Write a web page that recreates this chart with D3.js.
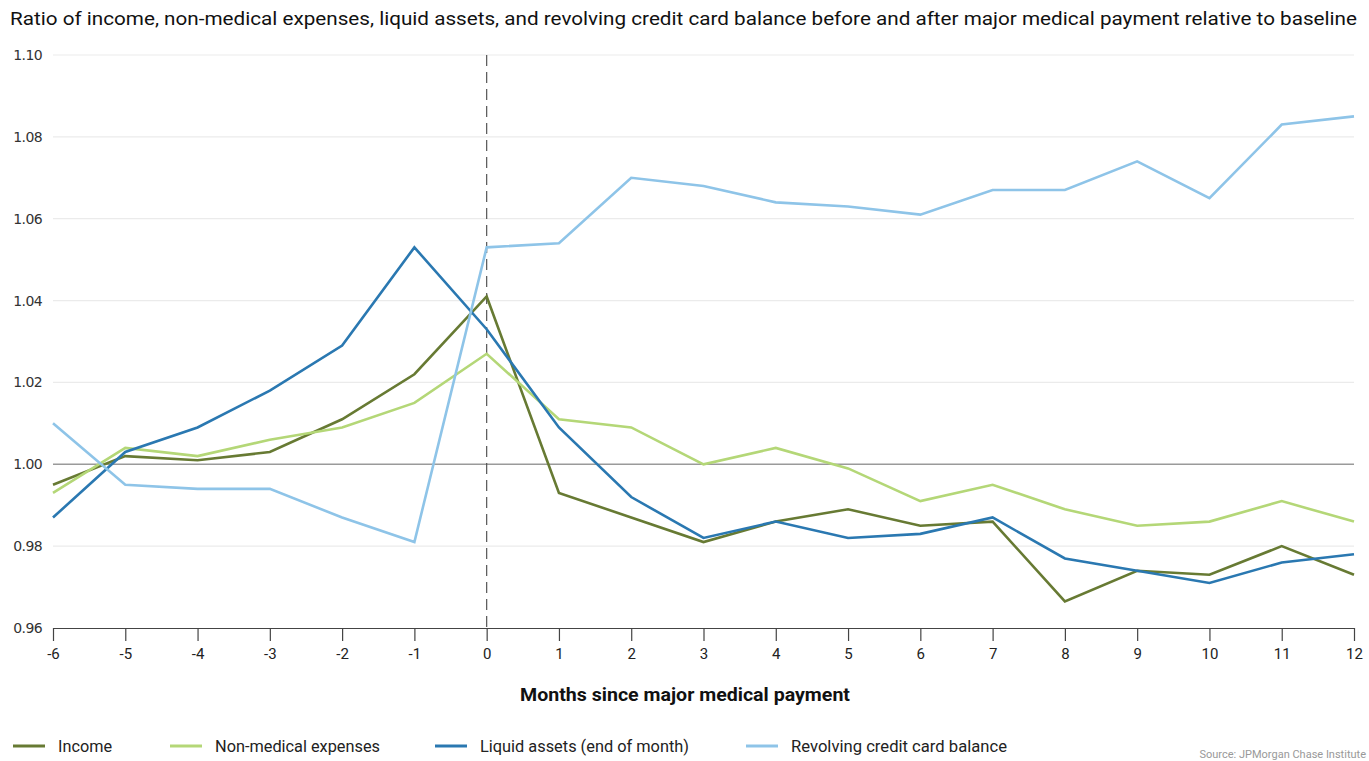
<!DOCTYPE html>
<html>
<head>
<meta charset="utf-8">
<script src="https://cdn.jsdelivr.net/npm/d3@7"></script>
<style>
  html, body { margin: 0; padding: 0; background: #fff; }
  svg { display: block; }
</style>
</head>
<body>
<svg id="chart" width="1369" height="761"></svg>
<script>
const months = [-6,-5,-4,-3,-2,-1,0,1,2,3,4,5,6,7,8,9,10,11,12];
const income =      [0.995,1.002,1.001,1.003,1.011,1.022,1.041,0.993,0.987,0.981,0.986,0.989,0.985,0.986,0.9665,0.974,0.973,0.980,0.973];
const nonMedical =  [0.993,1.004,1.002,1.006,1.009,1.015,1.027,1.011,1.009,1.000,1.004,0.999,0.991,0.995,0.989,0.985,0.986,0.991,0.986];
const liquidAssets =[0.987,1.003,1.009,1.018,1.029,1.053,1.033,1.009,0.992,0.982,0.986,0.982,0.983,0.987,0.977,0.974,0.971,0.976,0.978];
const revolving =   [1.010,0.995,0.994,0.994,0.987,0.981,1.053,1.054,1.070,1.068,1.064,1.063,1.061,1.067,1.067,1.074,1.065,1.083,1.085];
const yTicks = [0.96,0.98,1.00,1.02,1.04,1.06,1.08,1.10];
const seriesNames = ["Income","Non-medical expenses","Liquid assets (end of month)","Revolving credit card balance"];
const seriesColors = ["#677a33","#b4d777","#2a78b1","#8ec4e8"];
const seriesData = [income, nonMedical, liquidAssets, revolving];
const titleText = "Ratio of income, non-medical expenses, liquid assets, and revolving credit card balance before and after major medical payment relative to baseline";
const xTitle = "Months since major medical payment";
const sourceText = "Source: JPMorgan Chase Institute";

const svg = d3.select("#chart");
const condensed = "'Liberation Sans Narrow', 'Arial Narrow', 'Roboto', sans-serif";

const x = d3.scaleLinear().domain([-6, 12]).range([53, 1354]);
const y = d3.scaleLinear().domain([0.96, 1.10]).range([628, 55]);

// Title
svg.append("text")
  .attr("x", 10).attr("y", 25)
  .attr("font-family", condensed)
  .attr("font-size", 19)
  .attr("fill", "#111")
  .attr("textLength", 1347).attr("lengthAdjust", "spacingAndGlyphs")
  .text(titleText);

// Gridlines
svg.append("g").selectAll("line")
  .data(yTicks.filter(d => d !== 0.96))
  .join("line")
  .attr("x1", x(-6)).attr("x2", x(12))
  .attr("y1", d => y(d)).attr("y2", d => y(d))
  .attr("stroke", d => Math.abs(d - 1) < 1e-9 ? "#9a9a9a" : "#ebebeb")
  .attr("stroke-width", d => Math.abs(d - 1) < 1e-9 ? 1.5 : 1.2);

// Y labels
svg.append("g").selectAll("text")
  .data(yTicks)
  .join("text")
  .attr("x", 42).attr("y", d => y(d) + 5)
  .attr("text-anchor", "end")
  .attr("font-family", "'DejaVu Sans', sans-serif")
  .attr("font-size", 14)
  .attr("letter-spacing", -0.6)
  .attr("fill", "#333")
  .text(d => d.toFixed(2));

// X axis
const xAxis = d3.axisBottom(x).tickValues(months).tickSize(13).tickSizeOuter(0).tickFormat(d => String(d));
const gx = svg.append("g").attr("transform", "translate(0,628)").call(xAxis);
gx.select(".domain").attr("stroke", "#444").attr("stroke-width", 1.2);
gx.selectAll(".tick line").attr("stroke", "#444").attr("stroke-width", 1.2);
gx.selectAll(".tick text")
  .attr("y", 20)
  .attr("font-family", condensed)
  .attr("font-size", 15)
  .attr("fill", "#222");

// X title
svg.append("text")
  .attr("x", 685).attr("y", 701)
  .attr("text-anchor", "middle")
  .attr("font-family", condensed)
  .attr("font-weight", "bold")
  .attr("font-size", 19)
  .attr("fill", "#111")
  .attr("textLength", 330).attr("lengthAdjust", "spacingAndGlyphs")
  .text(xTitle);

// Dashed vertical line at 0
svg.append("line")
  .attr("x1", x(0)).attr("x2", x(0))
  .attr("y1", y(1.10)).attr("y2", y(0.96))
  .attr("stroke", "#555").attr("stroke-width", 1.2)
  .attr("stroke-dasharray", "11,6");

// Lines
const line = d3.line().x((d, i) => x(months[i])).y(d => y(d));
svg.append("g").selectAll("path")
  .data(seriesData)
  .join("path")
  .attr("d", d => line(d))
  .attr("fill", "none")
  .attr("stroke", (d, i) => seriesColors[i])
  .attr("stroke-width", 2.6)
  .attr("stroke-linejoin", "miter");

// Legend
const legendX = [13, 170, 435, 746];
const legendW = [54, 165, 209, 216];
const lg = svg.append("g").selectAll("g")
  .data(seriesNames)
  .join("g")
  .attr("transform", (d, i) => `translate(${legendX[i]},746)`);
lg.append("line")
  .attr("x1", 0).attr("x2", 32).attr("y1", 0).attr("y2", 0)
  .attr("stroke", (d, i) => seriesColors[i]).attr("stroke-width", 3);
lg.append("text")
  .attr("x", 45).attr("y", 6)
  .attr("font-family", condensed)
  .attr("font-size", 17)
  .attr("fill", "#222")
  .attr("textLength", (d, i) => legendW[i]).attr("lengthAdjust", "spacingAndGlyphs")
  .text(d => d);

// Source
svg.append("text")
  .attr("x", 1366).attr("y", 758)
  .attr("text-anchor", "end")
  .attr("font-family", condensed)
  .attr("font-size", 11)
  .attr("fill", "#999")
  .text(sourceText);
</script>
</body>
</html>
